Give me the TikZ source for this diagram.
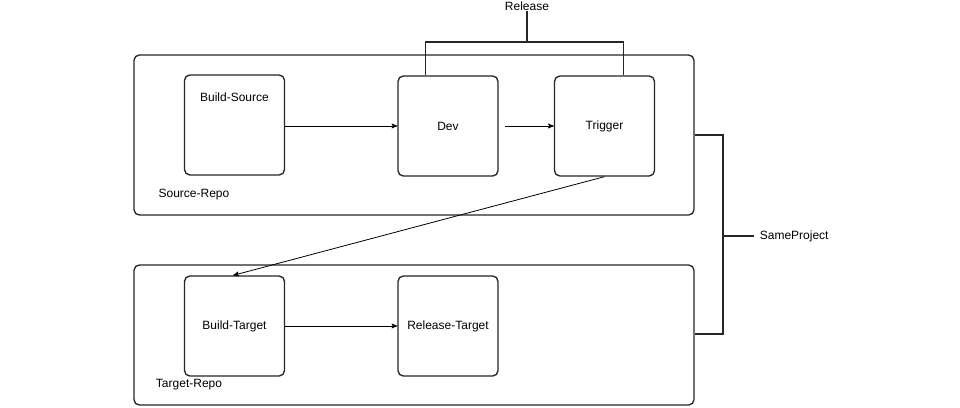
\documentclass[tikz,border=0pt]{standalone}
\usepackage{fontspec}
\setmainfont{Liberation Sans}
\usetikzlibrary{arrows,positioning}

\begin{document}
\begin{tikzpicture}[x=0.75pt,y=-0.75pt,>=stealth',semithick,font=\fontsize{9}{11}\selectfont]
  \tikzstyle{repo}=[draw=black!85,line width=1pt,rounded corners=4pt,minimum width=420pt,inner sep=0pt]
  \tikzstyle{job}=[draw=black!85,line width=1pt,rounded corners=4pt,minimum width=75pt,minimum height=75pt,inner sep=0pt]
  \tikzstyle{bracket}=[draw=black!85,line width=1pt]

  \fill[white] (0,0) rectangle (960,407);
  \useasboundingbox (0,0) rectangle (960,407);

  \node[repo,minimum height=120pt] (srcrepo) at (414,135) {};
  \node[repo,minimum height=105pt] (tgtrepo) at (414,335) {};

  \node[job] (bsrc)  at (234.5,125) {};
  \node[job] (dev)   at (448,126)   {Dev};
  \node[job] (trig)  at (604.5,126) {Trigger};
  \node[job] (btgt)  at (234.5,326) {Build-Target};
  \node[job] (reltgt) at (448,326)  {Release-Target};

  \node (bsrclbl) at (234.5,97) {Build-Source};
  \node (srclbl)  at (194,195)  {Source-Repo};
  \node (tgtlbl)  at (189,385)  {Target-Repo};

  \draw[->] (bsrc.east |- dev.west) -- (dev.west);
  \draw[->] ([xshift=5pt]dev.east) -- (trig.west);
  \draw[->] (reltgt.west -| btgt.east) -- (reltgt.west);
  \draw[->] (trig.south) -- ([xshift=-1pt]btgt.north);

  % Release
  \coordinate (relmid) at (527,42);
  \node[anchor=north] (rellbl) at (527,-3) {Release};
  \draw[bracket] ([xshift=-17pt]dev.north) |- (relmid) -| ([xshift=14pt]trig.north);
  \draw[bracket] (relmid) -- (527,11);

  % SameProject
  \coordinate (spmid) at (723,236);
  \node[anchor=west] (splbl) at (755,236) {SameProject};
  \draw[bracket] (srcrepo.east) -- (723,135) -- (723,334) -- (723,334 -| tgtrepo.east);
  \draw[bracket] (spmid) -- (754,236);
\end{tikzpicture}
\end{document}
